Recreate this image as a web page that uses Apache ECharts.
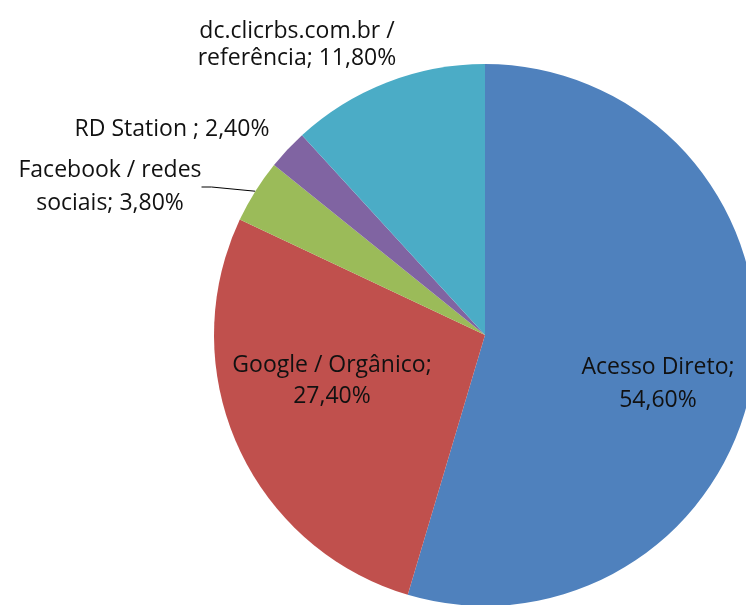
<!DOCTYPE html>
<html>
<head>
<meta charset="utf-8">
<script src="https://cdn.jsdelivr.net/npm/echarts@6/dist/echarts.min.js"></script>
<style>
  html, body { margin: 0; padding: 0; background: #fff; }
  #chart { width: 746px; height: 605px; }
</style>
</head>
<body>
<div id="chart"></div>
<script>
// dados do gráfico
const categories = ['Acesso Direto', 'Google / Orgânico', 'Facebook / redes sociais', 'RD Station ', 'dc.clicrbs.com.br / referência'];
const values = [54.6, 27.4, 3.8, 2.4, 11.8];
const colors = ['#4F81BD', '#C0504D', '#9BBB59', '#8064A2', '#4BACC6'];

// quebra de linha de cada rótulo
const labelLines = [
    (n, v) => n + ';\n' + v,
    (n, v) => n + ';\n' + v,
    (n, v) => 'Facebook / redes\nsociais; ' + v,
    (n, v) => n + '; ' + v,
    (n, v) => 'dc.clicrbs.com.br /\nreferência; ' + v
];
// posição dos rótulos (centro do texto) e altura de linha
const labelPos = [[658, 384], [332, 381], [110, 187], [172, 129], [297, 45]];
const labelLH = [33, 31, 33, 32, 27];

function fmt(v) {
    return v.toFixed(2).replace('.', ',') + '%';
}

var myChart = echarts.init(document.getElementById('chart'));
var option = {
    animation: false,
    series: [{
        type: 'pie',
        center: [485, 335],
        radius: 271,
        startAngle: 90,
        clockwise: true,
        avoidLabelOverlap: false,
        data: categories.map((c, i) => ({
            name: c,
            value: values[i],
            itemStyle: { color: colors[i] },
            label: { lineHeight: labelLH[i] },
            labelLine: { show: i === 2 }
        })),
        label: {
            show: true,
            position: 'outside',
            color: '#111',
            fontFamily: 'Open Sans',
            fontSize: 23,
            align: 'center',
            formatter: p => labelLines[p.dataIndex](p.name, fmt(p.value))
        },
        labelLine: {
            lineStyle: { color: '#000', width: 1 },
            length: 10,
            length2: 10
        },
        labelLayout: p => ({
            x: labelPos[p.dataIndex][0],
            y: labelPos[p.dataIndex][1],
            align: 'center',
            verticalAlign: 'middle'
        })
    }]
};
myChart.setOption(option);
</script>
</body>
</html>
